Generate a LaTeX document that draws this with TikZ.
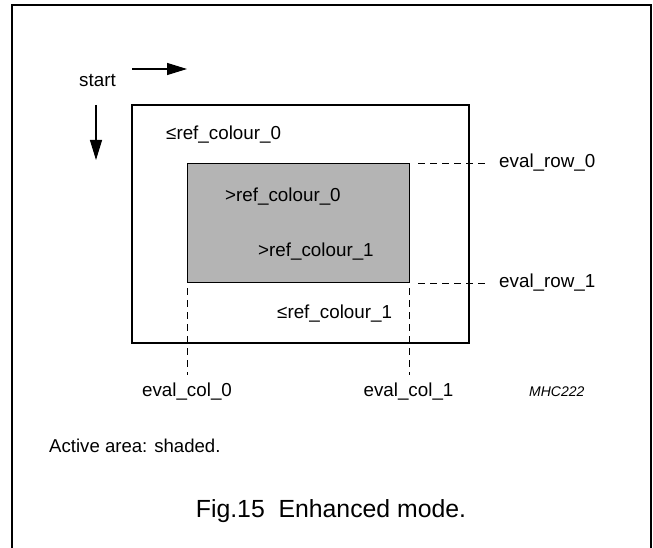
\documentclass[tikz,border=0pt]{standalone}
\usepackage{fontspec}
\setmainfont{Liberation Sans}
\usetikzlibrary{arrows.meta}
\definecolor{shade}{RGB}{180,180,180}
\begin{document}
\begin{tikzpicture}[x=1pt,y=-1pt,
  lbl/.style={anchor=base west,inner sep=0pt,font=\fontsize{18.8}{22}\selectfont},
  boxline/.style={draw,line width=2pt,inner sep=0pt,anchor=north west},
  guide/.style={line width=0.9pt,dash pattern=on 7pt off 5pt},
  flow/.style={line width=1.2pt,-{Triangle[length=20pt,width=12pt]}}]
\useasboundingbox (0,0) rectangle (653,548);
% outer frame (open at the bottom)
\draw[line width=2pt] (11.5,549) -- (11.5,5) -- (651,5) -- (651,549);
% scan direction
\node[lbl] (start) at (79,87) {start};
\coordinate (rs) at (132,69);
\coordinate (re) at (187,69);
\draw[flow] (rs) -- (re);
\coordinate (ds) at (96,105);
\coordinate (de) at (96,160);
\draw[flow] (ds) -- (de);
% display area and active area
\node[boxline,minimum width=336.7pt,minimum height=237.7pt] (area) at (131,104) {};
\node[boxline,fill=shade,line width=1.3pt,minimum width=221.5pt,minimum height=119pt] (active) at (187,163) {};
% texts in the areas
\node[lbl] (le0) at (166,140) {≤ref\_colour\_0};
\node[lbl] (gt0) at (225,201) {>ref\_colour\_0};
\node[lbl] (gt1) at (258,256) {>ref\_colour\_1};
\node[lbl] (le1) at (277,318) {≤ref\_colour\_1};
% row labels
\node[lbl] (row0) at (499,168) {eval\_row\_0};
\node[lbl] (row1) at (499,287) {eval\_row\_1};
\draw[guide,shorten <=8.5pt,shorten >=9pt] (active.north east) -- (active.north east -| row0.west);
\draw[guide,shorten <=8.5pt,shorten >=9pt] (active.south east) -- (active.south east -| row1.west);
% column labels
\node[lbl,anchor=base] (col0) at (187,396) {eval\_col\_0};
\node[lbl,anchor=base] (col1) at (408.5,396) {eval\_col\_1};
\draw[guide,shorten <=5pt,shorten >=7pt] (active.south west) -- (active.south west |- col0.north);
\draw[guide,shorten <=5pt,shorten >=7pt] (active.south east) -- (active.south east |- col1.north);
% reference code and captions
\node[anchor=base west,inner sep=0pt,font=\fontsize{14}{16}\selectfont\itshape] (code) at (529,396) {MHC222};
\node[lbl,font=\fontsize{18.6}{22}\selectfont] (note) at (49,452) {Active area: shaded.};
\node[anchor=base,inner sep=0pt,font=\fontsize{24.8}{28}\selectfont] (cap) at (331,517) {Fig.15\ \ Enhanced mode.};
\end{tikzpicture}
\end{document}
